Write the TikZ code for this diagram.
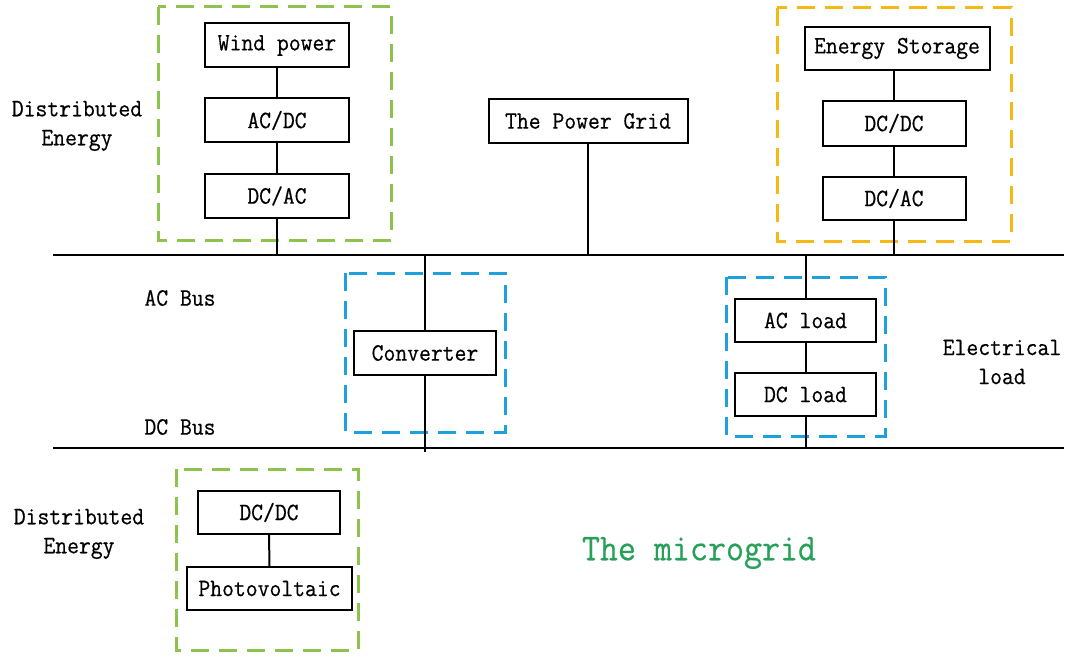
\documentclass[tikz,border=0pt]{standalone}
\usepackage{fontspec}
\newfontfamily\lblfont{Latin Modern Mono}[FakeBold=0.5,FakeStretch=0.92]
\definecolor{dgreen}{RGB}{141,194,76}
\definecolor{dorange}{RGB}{245,184,20}
\definecolor{dblue}{RGB}{30,160,220}
\definecolor{tgreen}{RGB}{40,160,90}
\begin{document}
\begin{tikzpicture}[x=1pt,y=-1pt,
  blk/.style={draw=black,line width=2pt,rectangle,inner sep=0pt,minimum height=44pt,font=\lblfont\fontsize{25}{28}\selectfont},
  lbl/.style={inner sep=0pt,align=center,font=\lblfont\fontsize{25}{29}\selectfont},
  grp/.style={line width=3pt,dash pattern=on 18pt off 10pt},
  wire/.style={line width=2pt}]
\useasboundingbox (0,0) rectangle (1066,658);
\fill[white] (0,0) rectangle (1066,658);
% groups
\draw[grp,dgreen] (158,7) rectangle (391,240);
\draw[grp,dorange] (777,8) rectangle (1011,241);
\draw[grp,dblue] (345,273) rectangle (505,432);
\draw[grp,dblue] (726,277) rectangle (885,436);
\draw[grp,dgreen] (176,469) rectangle (358,650);
% buses
\coordinate (acL) at (53,255);
\coordinate (acR) at (1064,255);
\coordinate (dcL) at (53,448);
\coordinate (dcR) at (1064,448);
\draw[wire] (acL) -- (acR);
\draw[wire] (dcL) -- (dcR);
% blocks
\node[blk,minimum width=144pt] (wind) at (277,45.5) {Wind power};
\node[blk,minimum width=144pt] (acdc) at (277,120.5) {AC/DC};
\node[blk,minimum width=144pt] (dcac) at (277,196) {DC/AC};
\node[blk,minimum width=199pt] (grid) at (588,121) {The Power Grid};
\node[blk,minimum width=185pt,minimum height=43pt] (es) at (897,48.5) {Energy Storage};
\node[blk,minimum width=143pt,minimum height=45pt] (esdc) at (894,123.5) {DC/DC};
\node[blk,minimum width=143pt,minimum height=43pt] (esac) at (894,198.5) {DC/AC};
\node[blk,minimum width=142pt] (conv) at (425,353) {Converter};
\node[blk,minimum width=141pt,minimum height=43pt] (acload) at (805.5,320.5) {AC load};
\node[blk,minimum width=141pt,minimum height=43pt] (dcload) at (805.5,394.5) {DC load};
\node[blk,minimum width=142pt,minimum height=43pt] (pvdc) at (269,512.5) {DC/DC};
\node[blk,minimum width=165pt,minimum height=43pt] (pv) at (269.5,588.5) {Photovoltaic};
% connectors
\coordinate (convbot) at (425,452);
\draw[wire] (wind) -- (acdc);
\draw[wire] (acdc) -- (dcac);
\draw[wire] (dcac.south) -- (dcac.south |- acL);
\draw[wire] (grid.south) -- (grid.south |- acL);
\draw[wire] (esdc.north) -- (esdc.north |- es.south);
\draw[wire] (esdc) -- (esac);
\draw[wire] (esac.south) -- (esac.south |- acL);
\draw[wire] (conv.north |- acL) -- (conv.north);
\draw[wire] (conv.south) -- (convbot);
\draw[wire] (acload.north |- acL) -- (acload.north);
\draw[wire] (acload) -- (dcload);
\draw[wire] (dcload.south) -- (dcload.south |- dcL);
\draw[wire] (pvdc) -- (pv);
% labels
\node[lbl] (de1) at (77,126) {Distributed\\Energy};
\node[lbl] (de2) at (79,534) {Distributed\\Energy};
\node[lbl] (acbus) at (180,298) {AC Bus};
\node[lbl] (dcbus) at (180,427) {DC Bus};
\node[lbl] (eload) at (1002,362) {Electrical\\load};
\node[inner sep=0pt,text=tgreen,font=\lblfont\fontsize{38}{40}\selectfont] (mg) at (699,553) {The microgrid};
\end{tikzpicture}
\end{document}
